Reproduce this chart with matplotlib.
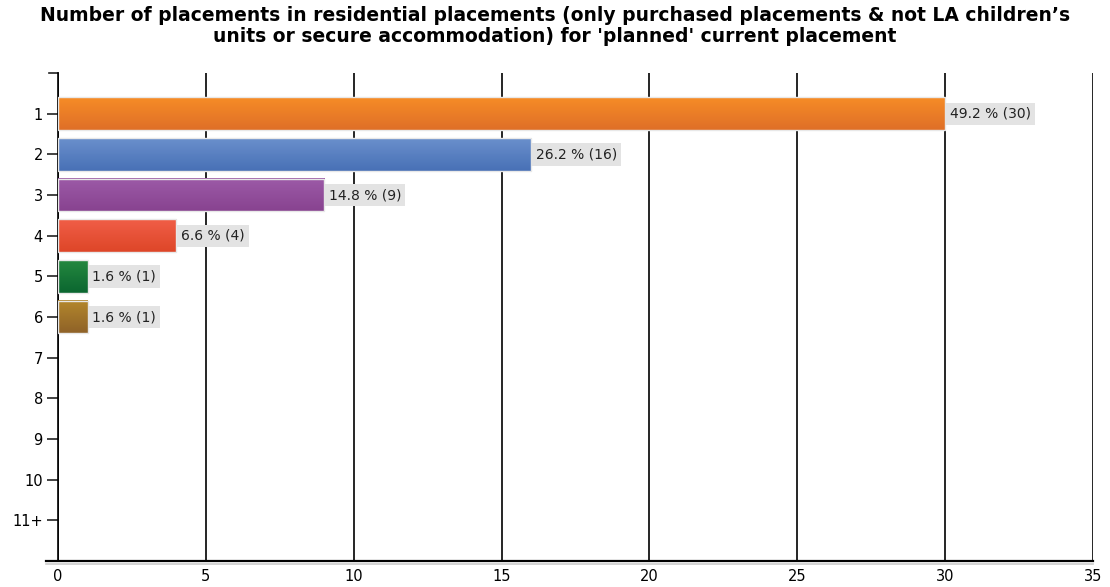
import matplotlib.pyplot as plt
import numpy as np
from matplotlib.colors import LinearSegmentedColormap

categories = ["1", "2", "3", "4", "5", "6", "7", "8", "9", "10", "11+"]
counts = [30, 16, 9, 4, 1, 1, 0, 0, 0, 0, 0]
percents = [49.2, 26.2, 14.8, 6.6, 1.6, 1.6, 0, 0, 0, 0, 0]

# top / bottom shade of each bar
bar_shades = [
    ("#f68c26", "#df6f28"),
    ("#6a90cc", "#4870b6"),
    ("#9c5aa7", "#884390"),
    ("#f05e47", "#de4628"),
    ("#24883f", "#0b6630"),
    ("#b3872c", "#8f6228"),
]

title = ("Number of placements in residential placements (only purchased placements & not LA children\u2019s\n"
         "units or secure accommodation) for 'planned' current placement")

fig = plt.figure(figsize=(11.1, 5.87), dpi=100)
ax = fig.add_axes([0.0523, 0.0443, 0.9324, 0.8313])

ypos = np.arange(len(categories))
bars = ax.barh(ypos, counts, height=0.8, color="none", edgecolor="none", zorder=3)

ax.set_xlim(0, 35)
ax.set_ylim(11, -1)

# vertical gradient fill for each bar
for i, patch in enumerate(bars.patches):
    if counts[i] == 0:
        continue
    top, bottom = bar_shades[i]
    cmap = LinearSegmentedColormap.from_list("shade", [top, bottom])
    grad = np.linspace(0, 1, 64).reshape(-1, 1)
    y0 = patch.get_y()
    h = patch.get_height()
    ax.imshow(grad, cmap=cmap, aspect="auto", zorder=3,
              extent=(0, patch.get_width(), y0 + h, y0), interpolation="bilinear")
    ax.add_patch(plt.Rectangle((0, y0), patch.get_width(), h, fill=False,
                               edgecolor="#e8e8e8", linewidth=1, zorder=4))
    ax.text(patch.get_width() + 0.15, i, f"{percents[i]} % ({counts[i]})",
            ha="left", va="center", fontsize=10, color="#222222", zorder=5,
            bbox=dict(boxstyle="square,pad=0.3", facecolor="#e3e3e3", edgecolor="none"))

ax.set_xlim(0, 35)
ax.set_ylim(11, -1)

ax.set_xticks(np.arange(0, 36, 5))
ax.set_yticks(ypos)
ax.set_yticklabels(categories)
ax.tick_params(axis="y", length=8, width=1.2, color="#222222", labelsize=10.5, pad=3)
ax.tick_params(axis="x", length=0, labelsize=10.5, pad=6)

ax.grid(axis="x", color="black", linewidth=1.2, zorder=1)
ax.set_axisbelow(True)

for side in ["top", "right"]:
    ax.spines[side].set_visible(False)
ax.spines["left"].set_linewidth(1.2)
ax.spines["bottom"].set_linewidth(1.6)
ax.spines["bottom"].set_bounds(-0.4, 35)
ax.spines["bottom"].set_zorder(6)

# small marks at the top-left corner and under the axis
ax.plot([-0.3, 0], [-1, -1], color="#222222", linewidth=1.2, clip_on=False)
ax.plot([-0.4, 35], [11.08, 11.08], color="#cccccc", linewidth=1.2, clip_on=False)

fig.suptitle(title, fontsize=13.5, fontweight="bold", y=0.99,
             family=["Liberation Sans Narrow", "DejaVu Sans"], linespacing=1.15)

fig.savefig("out.png", dpi=100)
